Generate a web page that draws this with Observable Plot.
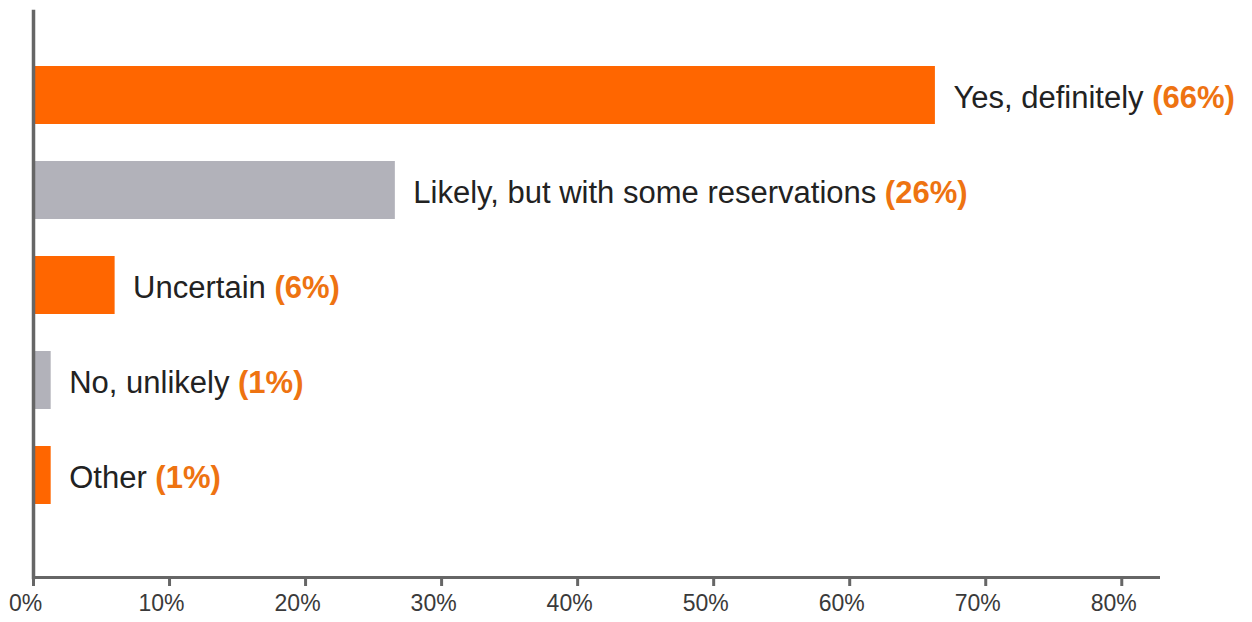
<!DOCTYPE html>
<html>
<head>
<meta charset="utf-8">
<script src="https://cdn.jsdelivr.net/npm/d3@7"></script>
<script src="https://cdn.jsdelivr.net/npm/@observablehq/plot@0.6"></script>
<style>
  html, body { margin: 0; padding: 0; background: #fff; }
  #chart svg { display: block; }
</style>
</head>
<body>
<div id="chart"></div>
<script>
const categories = ["Yes, definitely", "Likely, but with some reservations", "Uncertain", "No, unlikely", "Other"];
const values = [66.3, 26.6, 6.0, 1.3, 1.3];
const pctLabels = ["(66%)", "(26%)", "(6%)", "(1%)", "(1%)"];
const barColors = ["#FF6600", "#B2B2BA", "#FF6600", "#B2B2BA", "#FF6600"];
const xTicks = [0, 10, 20, 30, 40, 50, 60, 70, 80];

const data = categories.map((c, i) => ({category: c, value: values[i], pct: pctLabels[i], color: barColors[i]}));

const FONT = "'Liberation Sans', Arial, sans-serif";

const chart = Plot.plot({
  width: 1252,
  height: 622,
  marginTop: 11,
  marginBottom: 45,
  marginLeft: 33,
  marginRight: 94,
  style: {fontFamily: FONT, background: "#fff"},
  x: {domain: [0, 82.7], axis: null},
  y: {domain: categories, paddingInner: 0.39, paddingOuter: 0.665, align: 0.433, axis: null},
  marks: [
    Plot.barX(data, {y: "category", x: "value", fill: "color"}),
    Plot.text(data, {
      y: "category", x: "value", text: "category",
      dx: 18, dy: 3, textAnchor: "start", fontSize: 31, fill: "#222",
      render(index, scales, values, dimensions, context, next) {
        const g = next(index, scales, values, dimensions, context);
        const texts = g.querySelectorAll("text");
        texts.forEach((t, j) => {
          const i = index[j];
          const ts = document.createElementNS("http://www.w3.org/2000/svg", "tspan");
          ts.setAttribute("fill", "#EE7311");
          ts.setAttribute("font-weight", "bold");
          ts.textContent = " " + data[i].pct;
          t.appendChild(ts);
        });
        return g;
      }
    }),
    Plot.frame({anchor: "left", stroke: "#666", strokeWidth: 3.5}),
    Plot.frame({anchor: "bottom", stroke: "#666", strokeWidth: 3}),
    Plot.axisX({
      ticks: xTicks, tickSize: 9, stroke: "#666", strokeWidth: 3,
      tickFormat: () => "", label: null
    }),
    Plot.text(xTicks, {
      x: d => d, text: d => d + "%", frameAnchor: "bottom", dy: 33, dx: -8,
      fontSize: 23, fill: "#3a3a3a"
    })
  ]
});

document.getElementById("chart").appendChild(chart);
</script>
</body>
</html>
